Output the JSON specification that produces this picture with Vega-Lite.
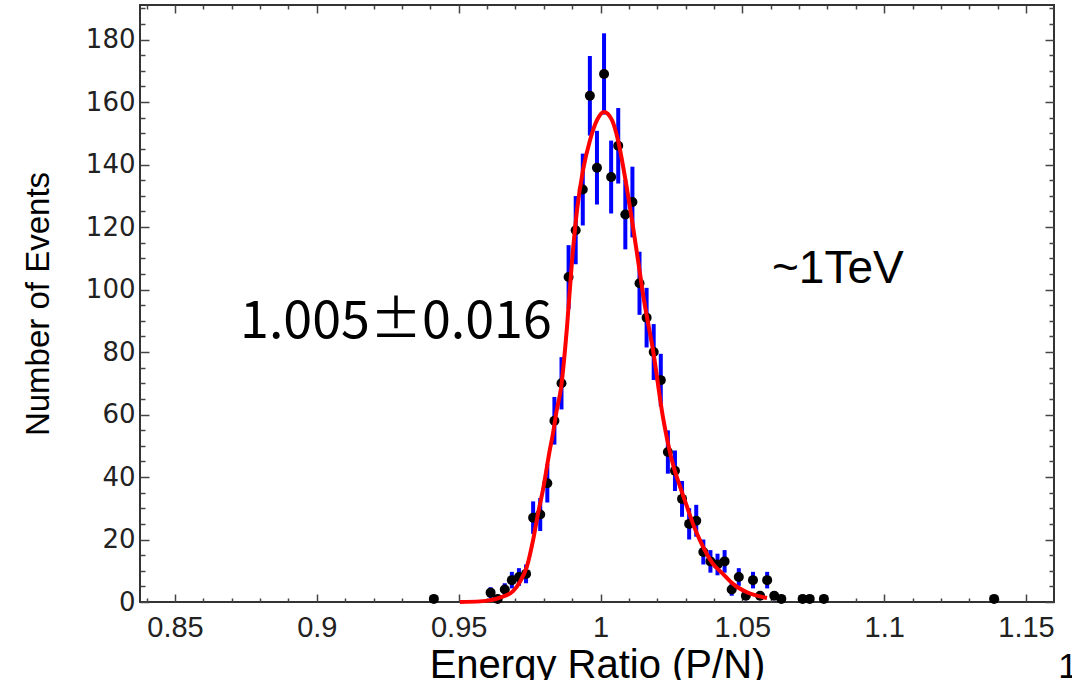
{
  "$schema": "https://vega.github.io/schema/vega-lite/v6.json",
  "width": 914,
  "height": 597,
  "autosize": {"type": "none"},
  "padding": {"left": 140, "top": 5, "right": 18, "bottom": 78},
  "background": "white",
  "view": {"stroke": "#333333", "strokeWidth": 2},
  "config": {
    "axis": {"grid": false, "domain": false, "tickColor": "#444444", "tickWidth": 1.5},
    "text": {"color": "black"}
  },
  "datasets": {
    "hist": [
      {"x": 0.94125, "n": 1, "err": 1},
      {"x": 0.96125, "n": 3, "err": 1.73},
      {"x": 0.96375, "n": 1, "err": 1},
      {"x": 0.96625, "n": 4, "err": 2},
      {"x": 0.96875, "n": 7, "err": 2.65},
      {"x": 0.97125, "n": 8, "err": 2.83},
      {"x": 0.97375, "n": 9, "err": 3},
      {"x": 0.97625, "n": 27, "err": 5.2},
      {"x": 0.97875, "n": 28, "err": 5.29},
      {"x": 0.98125, "n": 38, "err": 6.16},
      {"x": 0.98375, "n": 58, "err": 7.62},
      {"x": 0.98625, "n": 70, "err": 8.37},
      {"x": 0.98875, "n": 104, "err": 10.2},
      {"x": 0.99125, "n": 119, "err": 10.91},
      {"x": 0.99375, "n": 132, "err": 11.49},
      {"x": 0.99625, "n": 162, "err": 12.73},
      {"x": 0.99875, "n": 139, "err": 11.79},
      {"x": 1.00125, "n": 169, "err": 13},
      {"x": 1.00375, "n": 136, "err": 11.66},
      {"x": 1.00625, "n": 146, "err": 12.08},
      {"x": 1.00875, "n": 124, "err": 11.14},
      {"x": 1.01125, "n": 128, "err": 11.31},
      {"x": 1.01375, "n": 102, "err": 10.1},
      {"x": 1.01625, "n": 91, "err": 9.54},
      {"x": 1.01875, "n": 80, "err": 8.94},
      {"x": 1.02125, "n": 71, "err": 8.43},
      {"x": 1.02375, "n": 48, "err": 6.93},
      {"x": 1.02625, "n": 42, "err": 6.48},
      {"x": 1.02875, "n": 33, "err": 5.74},
      {"x": 1.03125, "n": 25, "err": 5},
      {"x": 1.03375, "n": 26, "err": 5.1},
      {"x": 1.03625, "n": 16, "err": 4},
      {"x": 1.03875, "n": 13, "err": 3.61},
      {"x": 1.04125, "n": 12, "err": 3.46},
      {"x": 1.04375, "n": 13, "err": 3.61},
      {"x": 1.04625, "n": 4, "err": 2},
      {"x": 1.04875, "n": 8, "err": 2.83},
      {"x": 1.05125, "n": 2, "err": 1.41},
      {"x": 1.05375, "n": 7, "err": 2.65},
      {"x": 1.05625, "n": 2, "err": 1.41},
      {"x": 1.05875, "n": 7, "err": 2.65},
      {"x": 1.06125, "n": 2, "err": 1.41},
      {"x": 1.06375, "n": 1, "err": 1},
      {"x": 1.07125, "n": 1, "err": 1},
      {"x": 1.07375, "n": 1, "err": 1},
      {"x": 1.07875, "n": 1, "err": 1},
      {"x": 1.13875, "n": 1, "err": 1}
    ],
    "fit": [
      {"x": 0.95044, "y": 0},
      {"x": 0.95753, "y": 0.2},
      {"x": 0.96458, "y": 1.4},
      {"x": 0.96916, "y": 3.5},
      {"x": 0.97163, "y": 6.5},
      {"x": 0.9741, "y": 11.5},
      {"x": 0.97621, "y": 19.7},
      {"x": 0.97797, "y": 28.3},
      {"x": 0.97973, "y": 36},
      {"x": 0.9822, "y": 49},
      {"x": 0.98326, "y": 54},
      {"x": 0.98449, "y": 61},
      {"x": 0.98608, "y": 68.5},
      {"x": 0.98819, "y": 88},
      {"x": 0.98995, "y": 109},
      {"x": 0.99172, "y": 125.4},
      {"x": 0.99383, "y": 138.2},
      {"x": 0.9963, "y": 147.8},
      {"x": 0.99877, "y": 154.2},
      {"x": 1.00123, "y": 156.8},
      {"x": 1.00405, "y": 154.2},
      {"x": 1.00617, "y": 147.8},
      {"x": 1.00863, "y": 136},
      {"x": 1.0111, "y": 122.2},
      {"x": 1.01322, "y": 109.4},
      {"x": 1.01533, "y": 96.6},
      {"x": 1.01851, "y": 80.6},
      {"x": 1.02203, "y": 59.1},
      {"x": 1.02556, "y": 44},
      {"x": 1.02802, "y": 37},
      {"x": 1.03049, "y": 30.5},
      {"x": 1.0326, "y": 25},
      {"x": 1.03507, "y": 19.7},
      {"x": 1.03965, "y": 12.2},
      {"x": 1.04318, "y": 9},
      {"x": 1.0467, "y": 5.8},
      {"x": 1.05164, "y": 3.1},
      {"x": 1.05869, "y": 1.3}
    ]
  },
  "resolve": {"axis": {"x": "independent", "y": "independent"}},
  "layer": [
    {
      "data": {"name": "hist"},
      "mark": {"type": "errorbar", "color": "#0000ff", "thickness": 4},
      "encoding": {
        "x": {"field": "x", "type": "quantitative", "scale": {"domain": [0.83766, 1.15987], "nice": false, "zero": false}, "axis": null},
        "y": {"field": "n", "type": "quantitative", "scale": {"domain": [0, 191.06], "nice": false, "zero": true}, "axis": null},
        "yError": {"field": "err"}
      }
    },
    {
      "data": {"name": "hist"},
      "mark": {"type": "circle", "color": "black", "size": 100, "opacity": 1},
      "encoding": {
        "x": {
          "field": "x", "type": "quantitative",
          "scale": {"domain": [0.83766, 1.15987], "nice": false, "zero": false},
          "axis": {
            "orient": "bottom",
            "values": [0.84,0.85,0.86,0.87,0.88,0.89,0.9,0.91,0.92,0.93,0.94,0.95,0.96,0.97,0.98,0.99,1,1.01,1.02,1.03,1.04,1.05,1.06,1.07,1.08,1.09,1.1,1.11,1.12,1.13,1.14,1.15],
            "labelExpr": "abs(datum.value*20 - round(datum.value*20)) < 0.001 ? format(datum.value, '~g') : ''",
            "tickSize": {"condition": {"test": "abs(datum.value*20 - round(datum.value*20)) < 0.001", "value": -8}, "value": -4},
            "labelPadding": 19,
            "labelFont": "Liberation Sans",
            "labelFontSize": 29,
            "labelColor": "#222222",
            "labelFlush": false,
            "labelOverlap": false,
            "title": "Energy Ratio (P/N)",
            "titleFont": "Liberation Sans",
            "titleFontSize": 40,
            "titleFontWeight": "normal",
            "titleColor": "black",
            "titleBaseline": "alphabetic",
            "titleY": 75
          }
        },
        "y": {
          "field": "n", "type": "quantitative",
          "scale": {"domain": [0, 191.06], "nice": false, "zero": true},
          "axis": {
            "orient": "left",
            "values": [0,5,10,15,20,25,30,35,40,45,50,55,60,65,70,75,80,85,90,95,100,105,110,115,120,125,130,135,140,145,150,155,160,165,170,175,180,185,190],
            "labelExpr": "datum.value % 20 == 0 ? format(datum.value, 'd') : ''",
            "tickSize": {"condition": {"test": "datum.value % 20 == 0", "value": -9}, "value": -5},
            "labelPadding": 14,
            "labelFont": "DejaVu Sans",
            "labelFontSize": 26,
            "labelColor": "#222222",
            "labelFlush": false,
            "labelOverlap": false,
            "title": "Number of Events",
            "titleFont": "Liberation Sans",
            "titleFontSize": 33,
            "titleFontWeight": "normal",
            "titleColor": "black",
            "titleBaseline": "alphabetic",
            "titleX": -92
          }
        }
      }
    },
    {
      "data": {"name": "fit"},
      "mark": {"type": "line", "color": "#ff0000", "strokeWidth": 4, "interpolate": "monotone"},
      "encoding": {
        "x": {
          "field": "x", "type": "quantitative",
          "scale": {"domain": [0.83766, 1.15987], "nice": false, "zero": false},
          "axis": {
            "orient": "top",
            "values": [0.84,0.85,0.86,0.87,0.88,0.89,0.9,0.91,0.92,0.93,0.94,0.95,0.96,0.97,0.98,0.99,1,1.01,1.02,1.03,1.04,1.05,1.06,1.07,1.08,1.09,1.1,1.11,1.12,1.13,1.14,1.15],
            "labels": false,
            "title": null,
            "tickSize": {"condition": {"test": "abs(datum.value*20 - round(datum.value*20)) < 0.001", "value": -8}, "value": -4}
          }
        },
        "y": {
          "field": "y", "type": "quantitative",
          "scale": {"domain": [0, 191.06], "nice": false, "zero": true},
          "axis": {
            "orient": "right",
            "values": [0,5,10,15,20,25,30,35,40,45,50,55,60,65,70,75,80,85,90,95,100,105,110,115,120,125,130,135,140,145,150,155,160,165,170,175,180,185,190],
            "labels": false,
            "title": null,
            "tickSize": {"condition": {"test": "datum.value % 20 == 0", "value": -9}, "value": -5}
          }
        }
      }
    },
    {
      "data": {"values": [{"x": 0.87293, "y": 84.4, "t": "1.005±0.016"}]},
      "mark": {"type": "text", "font": "Noto Sans CJK JP", "fontSize": 52, "align": "left", "baseline": "alphabetic", "color": "black"},
      "encoding": {
        "x": {"field": "x", "type": "quantitative", "scale": {"domain": [0.83766, 1.15987], "nice": false, "zero": false}, "axis": null},
        "y": {"field": "y", "type": "quantitative", "scale": {"domain": [0, 191.06], "nice": false, "zero": true}, "axis": null},
        "text": {"field": "t"}
      }
    },
    {
      "data": {"values": [{"x": 1.06045, "y": 102, "t": "~1TeV"}]},
      "mark": {"type": "text", "font": "Liberation Sans", "fontSize": 46, "align": "left", "baseline": "alphabetic", "color": "black"},
      "encoding": {
        "x": {"field": "x", "type": "quantitative", "scale": {"domain": [0.83766, 1.15987], "nice": false, "zero": false}, "axis": null},
        "y": {"field": "y", "type": "quantitative", "scale": {"domain": [0, 191.06], "nice": false, "zero": true}, "axis": null},
        "text": {"field": "t"}
      }
    },
    {
      "data": {"values": [{"x": 1.1614, "y": -24.2, "t": "1"}]},
      "mark": {"type": "text", "font": "Liberation Sans", "fontSize": 35, "align": "left", "baseline": "alphabetic", "color": "black"},
      "encoding": {
        "x": {"field": "x", "type": "quantitative", "scale": {"domain": [0.83766, 1.15987], "nice": false, "zero": false}, "axis": null},
        "y": {"field": "y", "type": "quantitative", "scale": {"domain": [0, 191.06], "nice": false, "zero": true}, "axis": null},
        "text": {"field": "t"}
      }
    }
  ]
}
